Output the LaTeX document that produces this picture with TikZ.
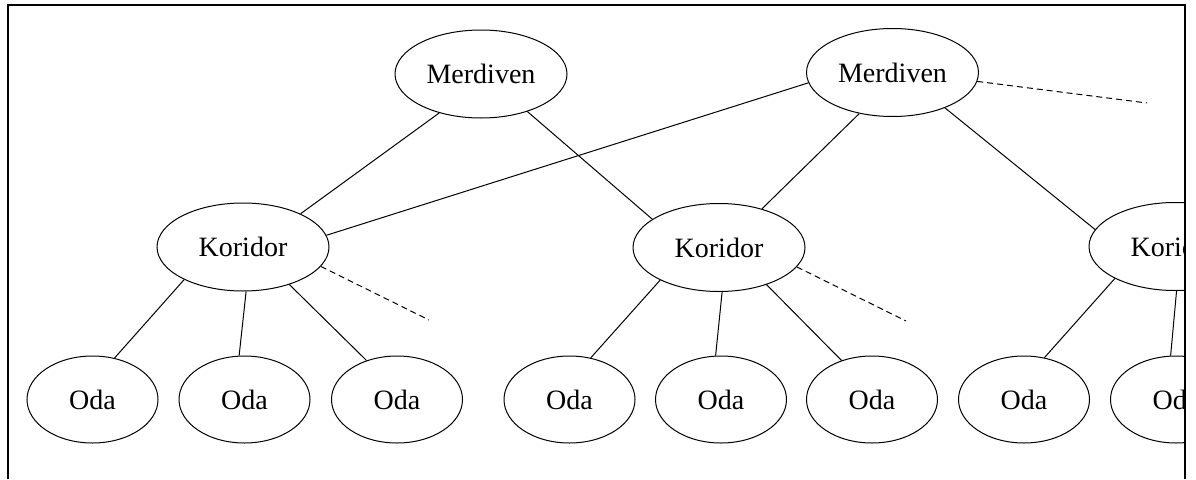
\documentclass[tikz,border=0pt]{standalone}
\usepackage{fontspec}
\setmainfont{Liberation Serif}
\usetikzlibrary{shapes.geometric}
\begin{document}
\begin{tikzpicture}[x=1pt,y=-1pt,
  big/.style={ellipse,draw,line width=1pt,inner sep=0pt,minimum width=172pt,minimum height=88pt,font=\fontsize{28}{34}\selectfont},
  room/.style={ellipse,draw,line width=1pt,inner sep=0pt,minimum width=131pt,minimum height=87pt,font=\fontsize{28}{34}\selectfont},
  link/.style={line width=1pt},
  more/.style={line width=1pt,dash pattern=on 6pt off 4pt},
  framel/.style={line width=2pt}]
\useasboundingbox (0,0) rectangle (1196,479);
\begin{scope}
\clip (0,0) rectangle (1184,479);
% top
\node[big] (m1) at (481,74) {Merdiven};
\node[big] (m2) at (892.5,72.5) {Merdiven};
% middle
\node[big] (k1) at (243,247) {Koridor};
\node[big] (k2) at (719,247.5) {Koridor};
\node[big] (k3) at (1175,246.5) {Koridor};
% bottom
\node[room] (o1) at (92.5,399.5) {Oda};
\node[room] (o2) at (244.5,399.5) {Oda};
\node[room] (o3) at (397,399.5) {Oda};
\node[room] (o4) at (569.5,399.5) {Oda};
\node[room] (o5) at (721,399.5) {Oda};
\node[room] (o6) at (872,399.5) {Oda};
\node[room] (o7) at (1024,399.5) {Oda};
\node[room] (o8) at (1176,399.5) {Oda};
% free ends
\coordinate (e0) at (1147,103);
\coordinate (e1) at (429,320);
\coordinate (e2) at (906,321);
% connectors
\draw[link] (m1.223) -- (k1.30);
\draw[link] (m1.321) -- (k2.157);
\draw[link] (m2.187) -- (k1.8);
\draw[link] (m2.231) -- (k2.42);
\draw[link] (m2.326) -- (k3.168);
\draw[more] (m2.354) -- (e0);
\draw[more] (k1.-14) -- (e1);
\draw[more] (k2.-14) -- (e2);
\draw[link] (k1.209) -- (o1.62);
\draw[link] (k1.274) -- (o2.97);
\draw[link] (k1.321) -- (o3.128);
\draw[link] (k2.209) -- (o4.63);
\draw[link] (k2.274) -- (o5.97);
\draw[link] (k2.322) -- (o6.128);
\draw[link] (k3.208) -- (o7.64);
\draw[link] (k3.272) -- (o8.97);
\end{scope}
\draw[framel] (7.5,479) -- (7.5,5) -- (1184.5,5) -- (1184.5,479);
\end{tikzpicture}
\end{document}
